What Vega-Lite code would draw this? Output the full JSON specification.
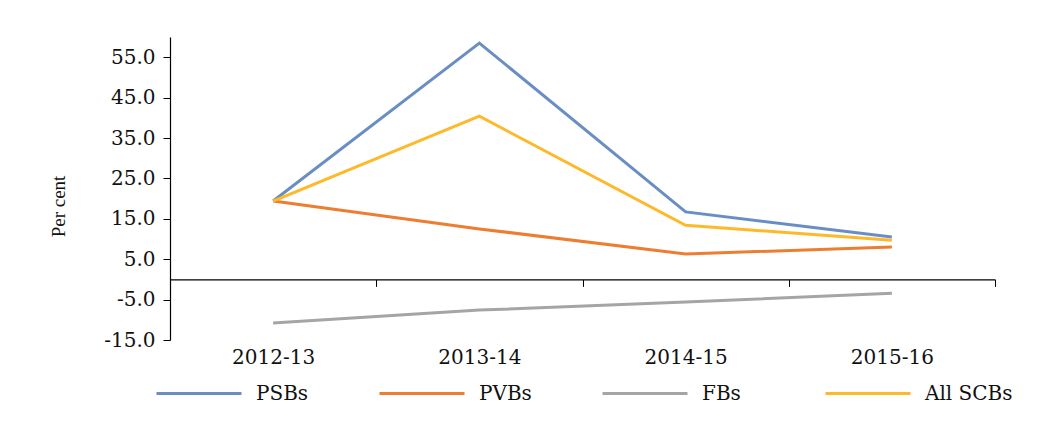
{
  "$schema": "https://vega.github.io/schema/vega-lite/v6.json",
  "width": 825,
  "height": 303,
  "autosize": {"type": "none"},
  "padding": {"left": 170, "top": 37, "right": 43, "bottom": 81},
  "background": "white",
  "config": {
    "view": {"stroke": null},
    "font": "DejaVu Serif"
  },
  "data": {
    "values": [
      {"year": "2012-13", "group": "PSBs", "value": 19.4},
      {"year": "2013-14", "group": "PSBs", "value": 58.5},
      {"year": "2014-15", "group": "PSBs", "value": 16.7},
      {"year": "2015-16", "group": "PSBs", "value": 10.5},
      {"year": "2012-13", "group": "PVBs", "value": 19.4},
      {"year": "2013-14", "group": "PVBs", "value": 12.5},
      {"year": "2014-15", "group": "PVBs", "value": 6.3},
      {"year": "2015-16", "group": "PVBs", "value": 8.0},
      {"year": "2012-13", "group": "FBs", "value": -10.8},
      {"year": "2013-14", "group": "FBs", "value": -7.6},
      {"year": "2014-15", "group": "FBs", "value": -5.6},
      {"year": "2015-16", "group": "FBs", "value": -3.4},
      {"year": "2012-13", "group": "All SCBs", "value": 19.4},
      {"year": "2013-14", "group": "All SCBs", "value": 40.4},
      {"year": "2014-15", "group": "All SCBs", "value": 13.4},
      {"year": "2015-16", "group": "All SCBs", "value": 9.7}
    ]
  },
  "mark": {"type": "line", "strokeWidth": 3},
  "encoding": {
    "x": {
      "field": "year",
      "type": "ordinal",
      "scale": {"type": "band", "paddingInner": 0, "paddingOuter": 0},
      "axis": {
        "title": null,
        "offset": -60.6,
        "domainColor": "#000",
        "domainWidth": 1.2,
        "tickColor": "#000",
        "tickSize": 7,
        "tickBand": "extent",
        "labelAngle": 0,
        "labelPadding": 61,
        "labelFontSize": 20,
        "labelColor": "#111"
      }
    },
    "y": {
      "field": "value",
      "type": "quantitative",
      "scale": {"domain": [-15, 60], "nice": false, "zero": false},
      "axis": {
        "title": "Per cent",
        "titleFont": "Liberation Serif",
        "titleFontWeight": "normal",
        "titleFontSize": 19,
        "titleColor": "#111",
        "titlePadding": 35,
        "titleAlign": "center",
        "titleY": 169,
        "values": [-15, -5, 5, 15, 25, 35, 45, 55],
        "format": ".1f",
        "labelExpr": "replace(datum.label, '\u2212', '-')",
        "grid": false,
        "domainColor": "#000",
        "domainWidth": 1.2,
        "tickColor": "#000",
        "tickSize": 7,
        "labelPadding": 8,
        "labelFontSize": 20,
        "labelColor": "#111"
      }
    },
    "color": {
      "field": "group",
      "type": "nominal",
      "sort": ["PSBs", "PVBs", "FBs", "All SCBs"],
      "scale": {
        "domain": ["PSBs", "PVBs", "FBs", "All SCBs"],
        "range": ["#6a8ec4", "#ed7d31", "#a5a5a5", "#fdb92a"]
      },
      "legend": {
        "title": null,
        "orient": "none",
        "legendX": -15,
        "legendY": 312.5,
        "direction": "horizontal",
        "columns": 4,
        "gridAlign": "all",
        "columnPadding": 29,
        "padding": 0,
        "symbolType": "stroke",
        "symbolSize": 7225,
        "symbolStrokeWidth": 3,
        "labelOffset": 13,
        "labelFontSize": 20,
        "labelColor": "#111",
        "labelLimit": 200
      }
    }
  }
}
